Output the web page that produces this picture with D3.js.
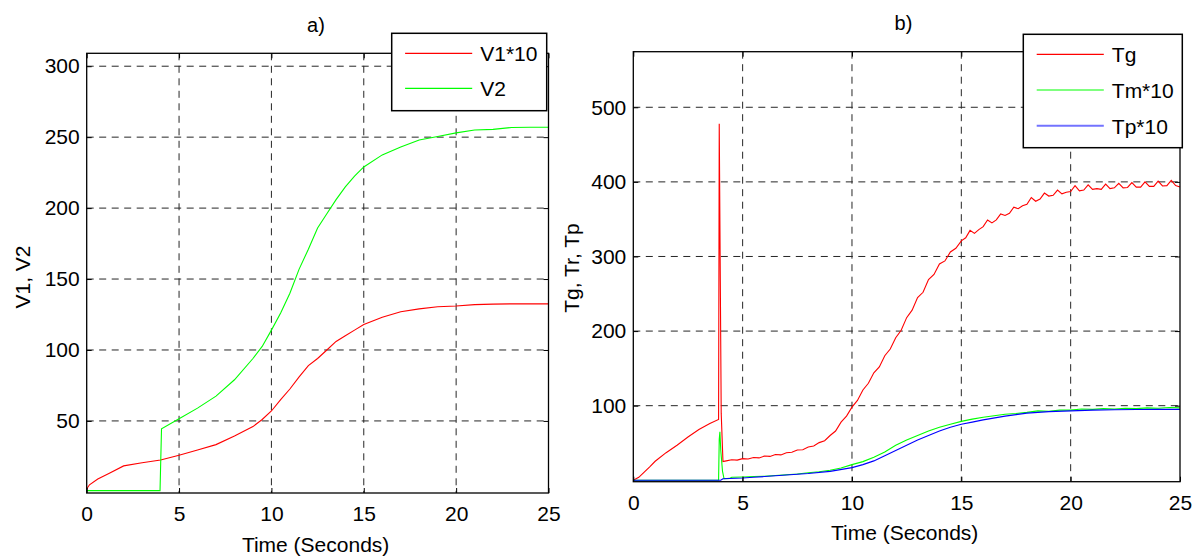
<!DOCTYPE html>
<html>
<head>
<meta charset="utf-8">
<script src="https://cdn.jsdelivr.net/npm/d3@7"></script>
<style>
  body { margin: 0; background: #fff; }
  text { font-family: "Liberation Sans", Arial, sans-serif; fill: #000; }
</style>
</head>
<body>
<script>
var width = 1197,
    height = 558;

// ---- data, panel a) ----
var xTicks = [0, 5, 10, 15, 20, 25];
var yTicksA = [50, 100, 150, 200, 250, 300];
var yTicksB = [100, 200, 300, 400, 500];

var v1Time = [0, 0.15, 0.6, 1.2, 2, 3, 4, 5, 6, 7, 8, 9, 9.5, 10, 10.5, 11, 11.5, 12, 12.5, 13, 13.5, 14, 14.5, 15, 16, 17, 18, 19, 20, 21, 22, 23, 24, 25];
var v1Vals = [2, 5, 9, 13, 18.3, 20.5, 22.5, 25.8, 29.5, 33.3, 39.4, 46, 51, 57, 65, 72.5, 81, 89, 94, 100, 106, 110, 114, 118, 123, 127, 129, 130.5, 131, 132, 132.3, 132.5, 132.5, 132.5];

var v2Time = [0, 3.97, 4.05, 5, 6, 7, 8, 9, 9.5, 10, 10.5, 11, 11.5, 12, 12.5, 13, 13.5, 14, 14.5, 15, 16, 17, 18, 19, 20, 21, 22, 23, 24, 25];
var v2Vals = [0.9, 0.9, 44.5, 51.5, 59, 67.5, 79, 94, 102.5, 114, 126, 140, 157, 171, 186, 196, 206, 215, 222.5, 229, 237.5, 243, 248, 250.5, 253, 255, 255.5, 256.8, 257, 257];

// ---- data, panel b) ----
var tgTime = [0, 0.25, 0.5, 0.75, 1, 1.5, 2, 2.5, 3, 3.5, 3.9, 3.93, 4.02, 4.1,
  4.25, 4.5, 4.75, 5, 5.25, 5.5, 5.75, 6, 6.25, 6.5, 6.75, 7, 7.25, 7.5, 7.75, 8, 8.25, 8.5, 8.75, 9,
  9.25, 9.5, 9.75, 10, 10.25, 10.5, 10.75, 11, 11.25, 11.5, 11.75, 12, 12.25, 12.5, 12.75, 13,
  13.25, 13.5, 13.75, 14, 14.25, 14.5, 14.75, 15, 15.2, 15.4, 15.6, 15.8, 16, 16.2, 16.4, 16.6, 16.8,
  17, 17.2, 17.4, 17.6, 17.8, 18, 18.2, 18.4, 18.6, 18.8, 19, 19.2, 19.4, 19.6, 19.8, 20, 20.2, 20.4,
  20.6, 20.8, 21, 21.2, 21.4, 21.6, 21.8, 22, 22.2, 22.4, 22.6, 22.8, 23, 23.2, 23.4, 23.6, 23.8, 24,
  24.2, 24.4, 24.6, 24.8, 25];
var tgVals = [0, 4, 11, 18, 25.5, 37, 47, 58, 68, 76, 81.5, 478, 90, 25,
  26, 27.5, 27, 29, 28.5, 30.5, 30, 32.5, 32, 34.5, 34, 37, 37.5, 40.5, 41, 44.5, 46, 50.5, 53, 60,
  66, 78, 86, 98, 107, 121, 130, 144, 152, 167, 176, 191, 201, 218, 228, 245,
  252, 269, 276, 290, 294, 306, 311, 321, 325, 335, 331, 336, 340, 349, 345, 349, 357,
  355, 358, 366, 364, 368, 370, 379, 374, 377, 385, 381, 382, 389, 384, 386, 387, 395, 388,
  389, 396, 390, 391, 390, 397, 391, 392, 398, 392, 392.5, 399, 393, 393, 400, 394, 394, 401,
  394.5, 395, 402, 395, 393];

var tmTime = [0, 3.9, 3.93, 3.96, 4.0, 4.08, 4.15, 4.4, 4.5, 5, 5.5, 6, 6.5, 7, 7.5, 8, 8.5, 9, 9.5, 10, 10.5, 11, 11.5, 12, 12.5, 13, 13.5, 14, 14.5, 15, 15.5, 16, 16.5, 17, 17.5, 18, 18.5, 19, 19.5, 20, 20.5, 21, 21.5, 22, 22.5, 23, 23.5, 24, 24.5, 25];
var tmVals = [0, 0, 55, 65, 40, 12, 2, 2.5, 4, 4.5, 5, 5.5, 6.5, 7.5, 8.5, 10, 11.5, 13.5, 16.5, 21, 25, 31, 38, 47, 54, 60, 66, 71, 75, 79, 82, 84.5, 86.5, 88.5, 89.5, 91, 93, 92.5, 94, 94, 95.5, 95, 96, 95.5, 96.5, 96, 97, 96.5, 97.5, 97];

var tpTime = [0, 4, 4.1, 5, 5.5, 6, 7, 8, 9, 10, 10.5, 11, 11.5, 12, 12.5, 13, 13.5, 14, 14.5, 15, 15.5, 16, 17, 18, 19, 20, 21, 22, 23, 24, 25];
var tpVals = [0, 0, 2, 3, 4, 5, 7, 9, 12, 17, 21, 26, 33, 40, 47, 54, 60, 66, 71, 75, 78, 81, 86, 90, 92, 93, 94, 94.5, 94.8, 95, 95];

function pairs(ts, vs) {
  return ts.map(function(t, i) { return [t, vs[i]]; });
}

var svg = d3.select("body").append("svg")
  .attr("width", width)
  .attr("height", height);

var panels = [
  {
    title: "a)", titleX: 316, titleY: 31.5,
    left: 86.7, right: 548.5, top: 53.3, bottom: 493,
    yDomain: [-0.8, 309.1], yTicks: yTicksA,
    yLabel: "V1, V2", yLabelX: 30, yLabelY: 277,
    xLabelY: 552,
    series: [
      {name: "V1*10", color: "#ff0000", data: pairs(v1Time, v1Vals)},
      {name: "V2", color: "#00ff00", data: pairs(v2Time, v2Vals)}
    ],
    legend: {x: 391.7, y: 33.3, w: 155, h: 77.4, row0: 20, rowStep: 35}
  },
  {
    title: "b)", titleX: 903.5, titleY: 29.5,
    left: 633.3, right: 1180, top: 51.7, bottom: 481.7,
    yDomain: [-1.9, 574.5], yTicks: yTicksB,
    yLabel: "Tg, Tr, Tp", yLabelX: 579, yLabelY: 268,
    xLabelY: 540,
    series: [
      {name: "Tg", color: "#ff0000", data: pairs(tgTime, tgVals)},
      {name: "Tm*10", color: "#00ff00", data: pairs(tmTime, tmVals)},
      {name: "Tp*10", color: "#0000ff", legendColor: "#7373ff", data: pairs(tpTime, tpVals)}
    ],
    legend: {x: 1023.3, y: 34.3, w: 159, h: 113.4, row0: 20, rowStep: 35.7}
  }
];

panels.forEach(drawPanel);

function drawPanel(p) {
  var x = d3.scaleLinear().domain([0, 25]).range([p.left, p.right]);
  var y = d3.scaleLinear().domain(p.yDomain).range([p.bottom, p.top]);
  var g = svg.append("g");

  // grid
  g.selectAll("line.gx")
    .data(xTicks.slice(1, -1))
    .enter().append("line")
    .attr("x1", function(d) { return x(d); })
    .attr("x2", function(d) { return x(d); })
    .attr("y1", p.top).attr("y2", p.bottom)
    .attr("stroke", "#262626").attr("stroke-dasharray", "7,5.5");
  g.selectAll("line.gy")
    .data(p.yTicks)
    .enter().append("line")
    .attr("y1", function(d) { return y(d); })
    .attr("y2", function(d) { return y(d); })
    .attr("x1", p.left).attr("x2", p.right)
    .attr("stroke", "#262626").attr("stroke-dasharray", "7,5.5");

  var line = d3.line()
    .x(function(d) { return x(d[0]); })
    .y(function(d) { return y(d[1]); });

  g.selectAll("path.series")
    .data(p.series)
    .enter().append("path")
    .attr("fill", "none")
    .attr("stroke", function(d) { return d.color; })
    .attr("stroke-width", 1.1)
    .attr("d", function(d) { return line(d.data); });

  // axes, ticks pointing inward
  var fs = "21px";
  var ax = g.append("g").attr("transform", "translate(0," + p.bottom + ")")
    .call(d3.axisBottom(x).tickValues(xTicks).tickSize(-5).tickPadding(13));
  var ay = g.append("g").attr("transform", "translate(" + p.left + ",0)")
    .call(d3.axisLeft(y).tickValues(p.yTicks).tickSize(-5).tickPadding(7));
  g.append("g").attr("transform", "translate(0," + p.top + ")")
    .call(d3.axisTop(x).tickValues(xTicks).tickSize(-5).tickFormat(""));
  g.append("g").attr("transform", "translate(" + p.right + ",0)")
    .call(d3.axisRight(y).tickValues(p.yTicks).tickSize(-5).tickFormat(""));
  g.selectAll(".domain").remove();
  g.selectAll(".tick line").attr("stroke", "#000");
  ax.selectAll("text").style("font-size", fs).attr("font-family", null);
  ay.selectAll("text").style("font-size", fs).attr("font-family", null);

  g.append("rect")
    .attr("x", p.left).attr("y", p.top)
    .attr("width", p.right - p.left).attr("height", p.bottom - p.top)
    .attr("fill", "none").attr("stroke", "#000").attr("stroke-width", 1.3);

  // labels
  g.append("text").attr("x", p.titleX).attr("y", p.titleY)
    .attr("text-anchor", "middle").style("font-size", "20px").text(p.title);
  g.append("text").attr("x", (p.left + p.right) / 2 - 2).attr("y", p.xLabelY)
    .attr("text-anchor", "middle").style("font-size", fs).text("Time (Seconds)");
  g.append("text")
    .attr("transform", "translate(" + p.yLabelX + "," + p.yLabelY + ") rotate(-90)")
    .attr("text-anchor", "middle").style("font-size", fs).text(p.yLabel);

  // legend
  var L = p.legend;
  var lg = g.append("g").attr("transform", "translate(" + L.x + "," + L.y + ")");
  lg.append("rect").attr("width", L.w).attr("height", L.h)
    .attr("fill", "#fff").attr("stroke", "#000").attr("stroke-width", 1.5);
  var rows = lg.selectAll("g.row")
    .data(p.series)
    .enter().append("g")
    .attr("transform", function(d, i) { return "translate(0," + (L.row0 + i * L.rowStep) + ")"; });
  rows.append("line")
    .attr("x1", 13.4).attr("x2", 80.5)
    .attr("stroke", function(d) { return d.legendColor || d.color; })
    .attr("stroke-width", function(d) { return d.legendColor ? 2 : 1.2; });
  rows.append("text")
    .attr("x", 88.5).attr("y", 8)
    .style("font-size", fs)
    .text(function(d) { return d.name; });
}
</script>
</body>
</html>
